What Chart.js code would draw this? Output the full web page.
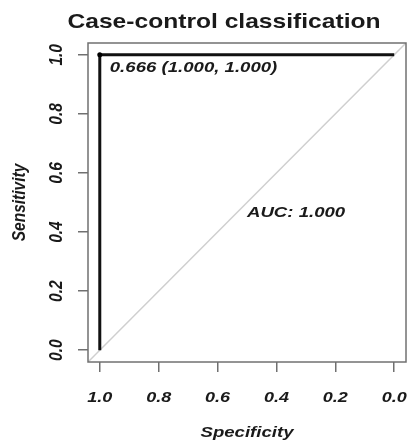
<!DOCTYPE html>
<html>
<head>
<meta charset="utf-8">
<script src="https://cdn.jsdelivr.net/npm/chart.js@4.4.0/dist/chart.umd.min.js"></script>
<style>
  html, body { margin: 0; padding: 0; background: #ffffff; }
  #roc { display: block; }
</style>
</head>
<body>
<canvas id="roc" width="410" height="440"></canvas>
<script>
// ROC curve (specificity on a reversed x axis, sensitivity on y)
const specificity = [1.0, 1.0, 0.0];
const sensitivity = [0.0, 1.0, 1.0];

// best threshold marked on the curve
const bestThreshold = 0.666;
const bestSpecificity = [1.0];
const bestSensitivity = [1.0];

const aucValue = 1.000;

const xTickValues = [1.0, 0.8, 0.6, 0.4, 0.2, 0.0];
const yTickValues = [0.0, 0.2, 0.4, 0.6, 0.8, 1.0];

const titleText = 'Case-control classification';
const xTitle = 'Specificity';
const yTitle = 'Sensitivity';

// R style axis range: 4% extension on each side
const axisMin = -0.04;
const axisMax = 1.04;

const FONT = "'Liberation Sans', Arial, sans-serif";
const TEXT_COLOR = '#1a1a1a';
const SX = 1.2; // the reference text is a bit wider than it is tall

function drawText(ctx, text, x, y, size, align, baseline, rot) {
    ctx.save();
    ctx.translate(x, y);
    ctx.scale(SX, 1);
    if (rot) ctx.rotate(rot);
    ctx.font = 'bold ' + size + 'px ' + FONT;
    ctx.textAlign = align;
    ctx.textBaseline = baseline;
    ctx.fillStyle = TEXT_COLOR;
    ctx.fillText(text, 0, 0);
    ctx.restore();
}

function drawItalic(ctx, text, x, y, size, align, baseline, rot) {
    ctx.save();
    ctx.translate(x, y);
    ctx.scale(SX, 1);
    if (rot) ctx.rotate(rot);
    ctx.font = 'italic bold ' + size + 'px ' + FONT;
    ctx.textAlign = align;
    ctx.textBaseline = baseline;
    ctx.fillStyle = TEXT_COLOR;
    ctx.fillText(text, 0, 0);
    ctx.restore();
}

// Titles, tick labels, box and annotations like R's base graphics
const rocDecorations = {
    id: 'rocDecorations',
    afterDraw(chart) {
        const ctx = chart.ctx;
        const area = chart.chartArea;
        const xs = chart.scales.x;
        const ys = chart.scales.y;

        // plot box
        ctx.save();
        ctx.strokeStyle = '#707070';
        ctx.lineWidth = 1.5;
        ctx.strokeRect(area.left, area.top, area.right - area.left, area.bottom - area.top);
        ctx.restore();

        // title
        drawText(ctx, titleText, 224 - 0, 28, 20.5, 'center', 'alphabetic');

        // x tick labels
        xTickValues.forEach(v => {
            drawItalic(ctx, v.toFixed(1), xs.getPixelForValue(v), 402, 15, 'center', 'alphabetic');
        });
        // y tick labels (rotated, reading upwards)
        yTickValues.forEach(v => {
            drawItalic(ctx, v.toFixed(1), 61.5, ys.getPixelForValue(v), 15.5, 'center', 'alphabetic', -Math.PI / 2);
        });

        // axis titles
        drawItalic(ctx, xTitle, (area.left + area.right) / 2, 437, 15.5, 'center', 'alphabetic');
        drawItalic(ctx, yTitle, 25, (area.top + area.bottom) / 2, 15.5, 'center', 'alphabetic', -Math.PI / 2);

        // threshold label next to its point
        const px = xs.getPixelForValue(bestSpecificity[0]);
        const py = ys.getPixelForValue(bestSensitivity[0]);
        const thrLabel = bestThreshold.toFixed(3) + ' (' + bestSpecificity[0].toFixed(3) + ', ' + bestSensitivity[0].toFixed(3) + ')';
        drawItalic(ctx, thrLabel, px + 10, py + 17, 15.5, 'left', 'alphabetic');

        // AUC label, left/top anchored at (0.5, 0.5)
        drawItalic(ctx, 'AUC: ' + aucValue.toFixed(3), xs.getPixelForValue(0.5), ys.getPixelForValue(0.5) + 14, 15.5, 'left', 'alphabetic');
    }
};

const rocPoints = specificity.map((s, i) => ({ x: s, y: sensitivity[i] }));
const bestPoints = bestSpecificity.map((s, i) => ({ x: s, y: bestSensitivity[i] }));
// chance line, corner to corner of the plot region
const chancePoints = [
    { x: axisMax, y: 1 - axisMax },
    { x: axisMin, y: 1 - axisMin }
];

const ctx = document.getElementById('roc').getContext('2d');
new Chart(ctx, {
    type: 'scatter',
    data: {
        datasets: [
            {
                label: 'best threshold',
                data: bestPoints,
                showLine: false,
                pointRadius: 2.5,
                pointBackgroundColor: '#000000',
                pointBorderColor: '#000000',
                pointBorderWidth: 0
            },
            {
                label: 'ROC',
                data: rocPoints,
                showLine: true,
                borderColor: '#111111',
                borderWidth: 3,
                pointRadius: 0,
                tension: 0,
                fill: false
            },
            {
                label: 'chance',
                data: chancePoints,
                showLine: true,
                borderColor: '#cfcfcf',
                borderWidth: 1.5,
                pointRadius: 0,
                tension: 0,
                fill: false
            }
        ]
    },
    options: {
        responsive: false,
        animation: false,
        layout: {
            padding: { top: 43, right: 4, left: 0, bottom: 0 }
        },
        scales: {
            x: {
                type: 'linear',
                reverse: true,
                min: axisMin,
                max: axisMax,
                afterBuildTicks: function(scale) {
                    scale.ticks = xTickValues.map(v => ({ value: v }));
                },
                afterFit: function(scale) {
                    scale.height = 78;
                },
                ticks: { display: false },
                border: { display: false },
                grid: {
                    drawOnChartArea: false,
                    drawTicks: true,
                    tickLength: 10,
                    color: '#707070',
                    lineWidth: 1.5
                }
            },
            y: {
                type: 'linear',
                min: axisMin,
                max: axisMax,
                afterBuildTicks: function(scale) {
                    scale.ticks = yTickValues.map(v => ({ value: v }));
                },
                afterFit: function(scale) {
                    scale.width = 88;
                },
                ticks: { display: false },
                border: { display: false },
                grid: {
                    drawOnChartArea: false,
                    drawTicks: true,
                    tickLength: 10,
                    color: '#707070',
                    lineWidth: 1.5
                }
            }
        },
        plugins: {
            legend: { display: false },
            title: { display: false },
            tooltip: { enabled: false }
        }
    },
    plugins: [rocDecorations]
});
</script>
</body>
</html>
